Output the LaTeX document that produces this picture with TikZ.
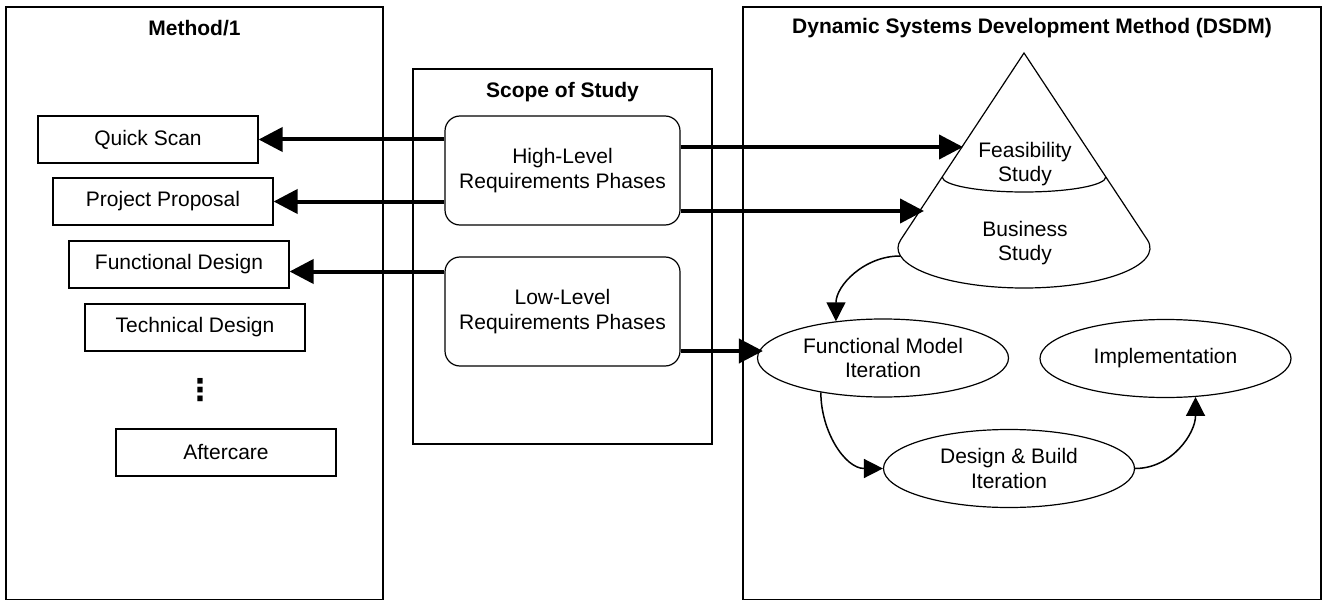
\documentclass[tikz,border=0pt]{standalone}
\usepackage{fontspec}
\setmainfont{Liberation Sans}
\newfontfamily\dotsfont{DejaVu Sans}
\usetikzlibrary{arrows.meta, shapes.geometric}
\tikzset{
    every node/.style={font=\fontsize{10.5}{12.3}\selectfont, align=center, inner sep=0pt},
    heading/.style={font=\fontsize{10.5}{12.3}\selectfont\bfseries},
    frame/.style={draw, line width=0.6pt},
    phase/.style={draw, line width=0.6pt, minimum width=110pt, minimum height=23.5pt},
    scopebox/.style={draw, line width=0.6pt, rounded corners=7.5pt,
    	minimum width=117.5pt, minimum height=54.5pt},
    stage/.style={draw, ellipse, line width=0.6pt, minimum width=125.5pt, minimum height=39pt},
    bigarrow/.style={line width=2pt, -{Triangle[length=12pt, width=12pt]}},
    flowarrow/.style={line width=0.75pt, -{Triangle[length=9.5pt, width=9.5pt]}}
}

\begin{document}
\begin{tikzpicture}[x=0.5pt, y=0.5pt]
	\useasboundingbox (0,0) rectangle (1322,601);

	% frames
	\node (method) [frame, minimum width=188.5pt, minimum height=296.25pt] at (194.5, 297.75) {};
	\node (scope) [frame, minimum width=149.5pt, minimum height=187.5pt] at (562.5, 344.5) {};
	\node (dsdm) [frame, minimum width=289pt, minimum height=296.25pt] at (1032, 297.75) {};
	\node (methodtitle) [heading] at (194.5, 573) {Method/1};
	\node (scopetitle) [heading] at (562.5, 509) {Scope of Study};
	\node (dsdmtitle) [heading] at (1032, 573) {Dynamic Systems Development Method (DSDM)};

	% Method/1 phases
	\node (qs) [phase] at (148, 461.5) {Quick Scan};
	\node (pp) [phase] at (163, 399.5) {Project Proposal};
	\node (fd) [phase] at (179, 336.5) {Functional Design};
	\node (td) [phase] at (195, 273.5) {Technical Design};
	\node (dots) [font=\dotsfont\fontsize{15}{16}\bfseries] at (200, 211) {⋮};
	\node (ac) [phase] at (226, 148.5) {Aftercare};

	% scope of study
	\node (hl) [scopebox] at (562.5, 430.5) {High-Level\\Requirements Phases};
	\node (ll) [scopebox] at (562.5, 289.5) {Low-Level\\Requirements Phases};

	% DSDM cone
	\coordinate (apex) at (1024, 548);
	\draw [line width=0.6pt] (apex) -- (900.7, 361.2)
		arc [start angle=168.16, end angle=371.84, x radius=126, y radius=40] -- cycle;
	\draw [line width=0.6pt] (942.2, 424) arc [start angle=180, end angle=360, x radius=81.8, y radius=15];
	\node (feas) at (1025, 437) {Feasibility\\Study};
	\node (bus) at (1025, 358) {Business\\Study};
	\coordinate (feasin) at (963, 454);
	\coordinate (busin) at (924, 390);
	\coordinate (busout) at (900, 345);

	% DSDM iterations
	\node (fm) [stage] at (883, 243) {Functional Model\\Iteration};
	\node (db) [stage] at (1009, 132.5) {Design \& Build\\Iteration};
	\node (im) [stage] at (1165.5, 242.5) {Implementation};

	\coordinate (fdin) at ([yshift=-3.5pt]fd.east);
	\coordinate (fmin) at ([shift={(3pt,3.5pt)}]fm.west);

	\draw [bigarrow] (hl.west |- qs) -- (qs.east);
	\draw [bigarrow] (hl.west |- pp) -- (pp.east);
	\draw [bigarrow] (ll.west |- fdin) -- (fdin);
	\draw [bigarrow] (hl.east |- feasin) -- (feasin);
	\draw [bigarrow] (hl.east |- busin) -- (busin);
	\draw [bigarrow] (ll.east |- fmin) -- (fmin);

	\draw [flowarrow] (busout) to [out=180, in=90] (fm.142);
	\draw [flowarrow] (fm.209) to [out=270, in=180] (db.west);
	\draw [flowarrow] (db.east) to [out=0, in=270] (im.308.5);
\end{tikzpicture}
\end{document}
